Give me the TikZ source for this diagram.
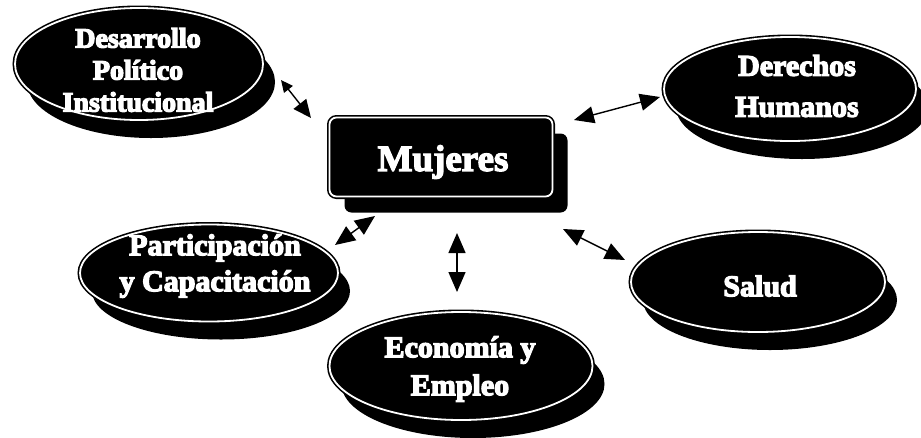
\documentclass[tikz,border=0pt]{standalone}
\usepackage{fontspec}
\usepackage{graphicx}
\setmainfont{Liberation Serif}
\usetikzlibrary{shapes.geometric,shadows,arrows.meta}
\newcommand\heavy[1]{\special{pdf:literal direct 2 Tr 1.3 w 1 1 1 RG}#1\special{pdf:literal direct 0 Tr 0.4 w 0 0 0 RG}}
\begin{document}
\begin{tikzpicture}[x=1pt,y=-1pt,
  bubble/.style={ellipse, inner sep=0pt, fill=black, draw=black, double=white,
    double distance=1.8pt, line width=1.6pt,
    drop shadow={shadow xshift=12pt, shadow yshift=-18pt, fill=black, opacity=1}},
  box/.style={rectangle, rounded corners=7pt, inner sep=0pt, fill=black, draw=black, double=white,
    double distance=1.8pt, line width=1.6pt,
    drop shadow={shadow xshift=15pt, shadow yshift=-16pt, fill=black, opacity=1}},
  lbl/.style={text=white, font=\bfseries\fontsize{30}{38}\selectfont, align=center, inner sep=0pt},
  conn/.style={{Triangle[length=20pt,width=17pt]}-{Triangle[length=20pt,width=17pt]}, line width=1.4pt, draw=black},
  shortconn/.style={{Triangle[length=12pt,width=11pt]}-{Triangle[length=18pt,width=16pt]}, line width=1.4pt, draw=black}
]
\useasboundingbox (0,0) rectangle (921,437);

% nodes
\node[bubble, minimum width=248pt, minimum height=112pt] (des) at (139,64) {};
\node[lbl, font=\bfseries\fontsize{28}{32}\selectfont] (dest) at (138,70) {\heavy{Desarrollo}\\\heavy{Político}\\\heavy{Institucional}};

\node[box, minimum width=223pt, minimum height=79pt] (muj) at (441,157) {};
\node[lbl, font=\bfseries\fontsize{37}{40}\selectfont] (mujt) at (443,162) {\heavy{Mujeres}};

\node[bubble, minimum width=252pt, minimum height=104pt] (der) at (790,89) {};
\node[lbl, font=\bfseries\fontsize{30}{41}\selectfont] (dert) at (797,86) {\heavy{Derechos}\\\heavy{Humanos}};

\node[bubble, minimum width=258pt, minimum height=97pt] (par) at (209,273) {};
\node[lbl, font=\bfseries\fontsize{30}{36}\selectfont] (part) at (215,266) {\heavy{Participación}\\\heavy{y Capacitación}};

\node[bubble, minimum width=263pt, minimum height=108pt] (eco) at (461,366) {};
\node[lbl] (ecot) at (460,369) {\heavy{Economía y}\\\heavy{Empleo}};

\node[bubble, minimum width=254pt, minimum height=100pt] (sal) at (758,282) {};
\node[lbl] (salt) at (760,286) {\heavy{Salud}};

% connector end points
\coordinate (a1) at (281,80);  \coordinate (b1) at (311,118);
\coordinate (a2) at (574,120); \coordinate (b2) at (660,97);
\coordinate (a3) at (335,245); \coordinate (b3) at (375,216);
\coordinate (a4) at (457,233); \coordinate (b4) at (457,292);
\coordinate (a5) at (563,229); \coordinate (b5) at (625,260);

\draw[shortconn] (a1) -- (b1);
\draw[conn] (a2) -- (b2);
\draw[conn] (a3) -- (b3);
\draw[conn] (a4) -- (b4);
\draw[conn] (a5) -- (b5);
\end{tikzpicture}
\end{document}
